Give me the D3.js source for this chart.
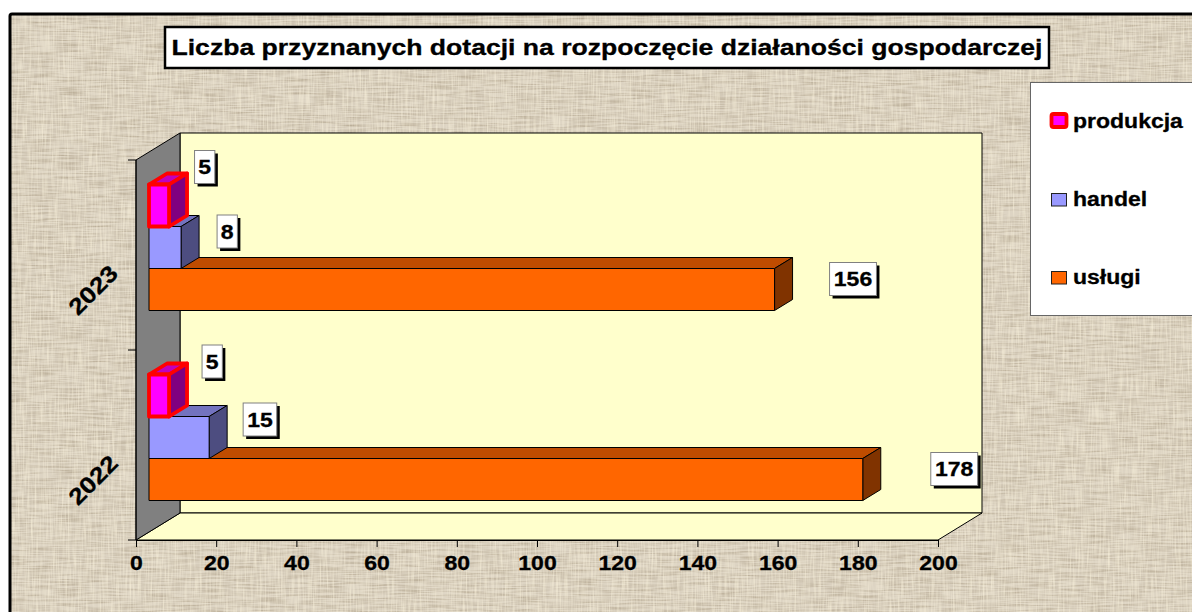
<!DOCTYPE html>
<html><head><meta charset="utf-8">
<script src="https://cdnjs.cloudflare.com/ajax/libs/d3/7.8.5/d3.min.js"></script>
<style>html,body{margin:0;padding:0;background:#fff;overflow:hidden}svg{display:block}
text{font-family:"Liberation Sans",Arial,sans-serif;font-weight:bold;fill:#000;stroke:#000;stroke-width:.3px}</style>
</head><body><svg id="c" width="1192" height="612"></svg>
<script>
const titleText = "Liczba przyznanych dotacji na rozpoczęcie działaności gospodarczej";
const years = ["2022", "2023"];
const seriesNames = ["usługi", "handel", "produkcja"];
const uslugi = [178, 156];
const handel = [15, 8];
const produkcja = [5, 5];
const xTicks = [0, 20, 40, 60, 80, 100, 120, 140, 160, 180, 200];
const seriesValues = [uslugi, handel, produkcja];
const legendOrder = ["produkcja", "handel", "usługi"];

const palette = {
  "usługi": {face:"#FF6600", top:"#BF4C00", side:"#803300", stroke:"#000", sw:1},
  "handel": {face:"#9999FF", top:"#7373BF", side:"#4D4D80", stroke:"#000", sw:1},
  "produkcja": {face:"#FF00FF", top:"#BF00BF", side:"#800080", stroke:"#FF0000", sw:3.8}
};
// label displacement from bar end (dx) and bar centre (dy)
const labelPlace = {
  "usługi": [[68,-10.5],[55,-10.5]],
  "handel": [[34,-18],[36,-16]],
  "produkcja": [[33,-34],[25.5,-38.5]]
};

const svg = d3.select("#c");
const W = 1192, H = 612;
const x = d3.scaleLinear().domain([0,200]).range([136,938]);
const y = d3.scaleBand().domain(years).range([540,160]);
const inner = d3.scaleBand().domain(seriesNames).range([42*3+24.5,24.5]);
const wall = {dx:44, dy:-27};
const bar = {dx:18, dy:-11, ox:13};

// horizontally widen a text to the reference's proportions
const widen = (sel,k=1.15)=>sel.each(function(){
  const n=this.getComputedTextLength();
  d3.select(this).attr("textLength",n*k).attr("lengthAdjust","spacingAndGlyphs");
});

// texture
const defs = svg.append("defs");
const f = defs.append("filter").attr("id","burlap").attr("x",0).attr("y",0).attr("width","100%").attr("height","100%").attr("color-interpolation-filters","sRGB");
f.append("feTurbulence").attr("type","fractalNoise").attr("baseFrequency","0.6 0.035").attr("numOctaves",2).attr("seed",4).attr("result","v");
f.append("feColorMatrix").attr("in","v").attr("type","matrix").attr("values","0 0 0 0 1  0 0 0 0 0.97  0 0 0 0 0.88  1.1 0 0 0 -0.42").attr("result","va");
f.append("feTurbulence").attr("type","fractalNoise").attr("baseFrequency","0.035 0.6").attr("numOctaves",2).attr("seed",9).attr("result","h");
f.append("feColorMatrix").attr("in","h").attr("type","matrix").attr("values","0 0 0 0 0.62  0 0 0 0 0.56  0 0 0 0 0.46  1.1 0 0 0 -0.42").attr("result","ha");
f.append("feMerge").selectAll("feMergeNode").data(["SourceGraphic","ha","va"]).enter().append("feMergeNode").attr("in",d=>d);

svg.append("rect").attr("x",10).attr("y",14).attr("width",W).attr("height",H).attr("fill","#DDD4C3").attr("filter","url(#burlap)");
svg.append("rect").attr("x",10).attr("y",14).attr("width",W).attr("height",H).attr("fill","none").attr("stroke","#000").attr("stroke-width",3).attr("rx",2);

// walls
const x0=x(0), x1=x(200), yT=y.range()[1], yB=y.range()[0];
const poly=(pts,fill,stroke="#000",sw=1,g=svg)=>g.append("polygon").attr("points",pts.map(p=>p.join(",")).join(" ")).attr("fill",fill).attr("stroke",stroke).attr("stroke-width",sw).attr("stroke-linejoin","round");
poly([[x0+wall.dx,yT+wall.dy],[x1+wall.dx,yT+wall.dy],[x1+wall.dx,yB+wall.dy],[x0+wall.dx,yB+wall.dy]],"#FFFFCC");
poly([[x0,yB],[x0+wall.dx,yB+wall.dy],[x1+wall.dx,yB+wall.dy],[x1,yB]],"#FFFFCC");
poly([[x0,yT],[x0+wall.dx,yT+wall.dy],[x0+wall.dx,yB+wall.dy],[x0,yB]],"#808080");

// axes
const gx = svg.append("g").attr("transform",`translate(0,${yB})`).call(d3.axisBottom(x).tickValues(xTicks).tickSize(7).tickSizeOuter(0));
gx.selectAll("text").attr("font-size",20).attr("dy",0).attr("y",30).style("fill","#000").call(widen);
gx.selectAll("line,path").attr("stroke","#000");
svg.append("line").attr("x1",x0).attr("x2",x0).attr("y1",yT).attr("y2",yB).attr("stroke","#000");
svg.selectAll("line.ct").data([yT,y("2023")+y.bandwidth(),yB]).enter().append("line").attr("class","ct")
  .attr("x1",x0-8).attr("x2",x0).attr("y1",d=>d).attr("y2",d=>d).attr("stroke","#000");
svg.selectAll("text.yr").data(years).enter().append("text").attr("class","yr").attr("font-size",23).attr("text-anchor","middle")
  .attr("transform",d=>`translate(${x0-43},${y(d)+y.bandwidth()/2+35}) rotate(-45)`).attr("dy","0.35em").text(d=>d).call(widen);

// bars
const h = inner.bandwidth();
years.forEach((yr,i)=>{
  seriesNames.forEach((s,k)=>{
    const v = seriesValues[k][i], c = palette[s];
    const l = x0+bar.ox, r = x(v)+bar.ox;
    const t = y(yr)+inner(s), b = t+h;
    const g = svg.append("g");
    const d={dx:bar.dx,dy:bar.dy};
    poly([[l,t],[l+d.dx,t+d.dy],[r+d.dx,t+d.dy],[r,t]],c.top,c.stroke,c.sw,g);
    poly([[r,t],[r+d.dx,t+d.dy],[r+d.dx,b+d.dy],[r,b]],c.side,c.stroke,c.sw,g);
    poly([[l,t],[r,t],[r,b],[l,b]],c.face,c.stroke,c.sw,g);
  });
});

// data labels
years.forEach((yr,i)=>{
  seriesNames.forEach((s,k)=>{
    const v = seriesValues[k][i];
    const [ox,oy] = labelPlace[s][i];
    const w = String(v).length*13.3+7, hh = 33;
    const lx = x(v)+bar.ox+ox;
    const cy = y(yr)+inner(s)+h/2+oy;
    svg.append("rect").attr("x",lx+3).attr("y",cy-hh/2+3).attr("width",w).attr("height",hh).attr("fill","#000");
    svg.append("rect").attr("x",lx).attr("y",cy-hh/2).attr("width",w).attr("height",hh).attr("fill","#fff").attr("stroke","#808080").attr("stroke-width",1);
    svg.append("text").attr("x",lx+w/2).attr("y",cy).attr("dy","0.36em").attr("text-anchor","middle").attr("font-size",20).text(v).call(widen);
  });
});

// title
svg.append("rect").attr("x",165).attr("y",27).attr("width",884).attr("height",41).attr("fill","#fff").attr("stroke","#000").attr("stroke-width",2.5);
svg.append("text").attr("x",607).attr("y",55).attr("text-anchor","middle").attr("font-size",22).attr("textLength",871).attr("lengthAdjust","spacingAndGlyphs").text(titleText);

// legend
svg.append("rect").attr("x",1030.5).attr("y",82.5).attr("width",200).attr("height",233).attr("fill","#fff").attr("stroke","#666");
const ly = d3.scalePoint().domain(legendOrder).range([128,284]);
legendOrder.forEach(s=>{
  const c = palette[s], base = ly(s);
  if(s==="produkcja"){
    svg.append("rect").attr("x",1051.5).attr("y",base-14).attr("width",15).attr("height",13).attr("rx",2).attr("fill",c.face).attr("stroke",c.stroke).attr("stroke-width",3.8);
  } else {
    svg.append("rect").attr("x",1051.5).attr("y",base-12.5).attr("width",15).attr("height",12.5).attr("fill",c.face).attr("stroke","#222").attr("stroke-width",1);
  }
  svg.append("text").attr("x",1073).attr("y",base).attr("font-size",20).text(s).call(widen);
});
</script></body></html>
